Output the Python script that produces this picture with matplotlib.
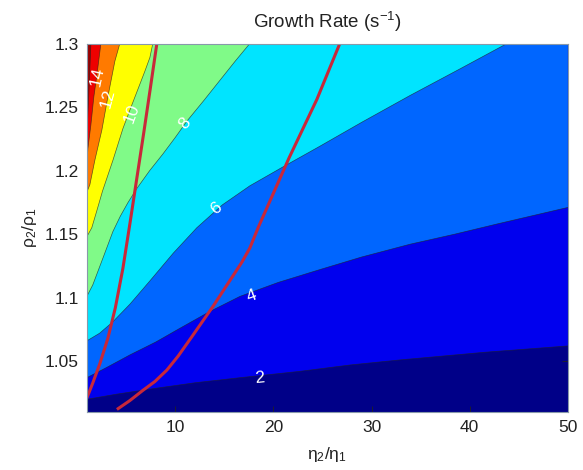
import matplotlib
matplotlib.use('Agg')
import matplotlib.pyplot as plt
from matplotlib.ticker import FixedLocator, FuncFormatter

plt.rcParams['font.family'] = ['Liberation Sans', 'DejaVu Sans']
plt.rcParams['mathtext.fontset'] = 'custom'
plt.rcParams['mathtext.rm'] = 'Liberation Sans'
plt.rcParams['mathtext.it'] = 'Liberation Sans:italic'

# contour lines (eta2/eta1, rho2/rho1)
c2_x = [1.0, 4.0, 7.4, 12.0, 16.6, 22.7, 27.8, 32.9, 41.5, 50.0]
c2_y = [1.020, 1.024, 1.028, 1.033, 1.037, 1.042, 1.047, 1.051, 1.057, 1.062]
c4_x = [1.0, 3.0, 5.4, 8.0, 10.5, 13.5, 16.6, 20.5, 24.7, 29.0, 33.9, 38.5, 42.8, 50.0]
c4_y = [1.037, 1.045, 1.055, 1.065, 1.076, 1.089, 1.101, 1.112, 1.122, 1.132,
        1.142, 1.150, 1.158, 1.171]
c6_x = [1.0, 2.3, 3.65, 5.4, 7.4, 9.8, 12.2, 14.8, 17.6, 21.0, 24.7, 29.0, 33.9, 39.0, 43.8]
c6_y = [1.066, 1.072, 1.081, 1.095, 1.113, 1.135, 1.155, 1.173, 1.188, 1.203,
        1.219, 1.238, 1.259, 1.280, 1.300]
c8_x = [1.0, 1.6, 2.63, 3.65, 4.4, 5.2, 6.1, 7.4, 8.74, 10.0, 11.2, 12.9, 14.55, 16.1, 17.6]
c8_y = [1.101, 1.110, 1.131, 1.152, 1.164, 1.175, 1.186, 1.200, 1.213, 1.226,
        1.239, 1.255, 1.271, 1.286, 1.300]
c10_x = [1.0, 1.5, 2.0, 2.6, 3.65, 4.67, 5.5, 6.2, 6.9, 7.42, 7.72]
c10_y = [1.148, 1.155, 1.168, 1.184, 1.208, 1.233, 1.250, 1.264, 1.278, 1.289, 1.300]
c12_x = [1.0, 1.31, 1.81, 2.53, 3.14, 3.85, 4.36]
c12_y = [1.183, 1.189, 1.208, 1.232, 1.258, 1.286, 1.300]
c14_x = [1.0, 1.10, 1.41, 1.71, 2.02, 2.43]
c14_y = [1.205, 1.217, 1.236, 1.258, 1.275, 1.300]
c16_x = [1.0, 1.2, 1.41]
c16_y = [1.228, 1.260, 1.300]

levels = [2, 4, 6, 8, 10, 12, 14, 16]
contours_x = [c2_x, c4_x, c6_x, c8_x, c10_x, c12_x, c14_x, c16_x]
contours_y = [c2_y, c4_y, c6_y, c8_y, c10_y, c12_y, c14_y, c16_y]

# inline label positions
label_text = ['2', '4', '6', '8', '10', '12', '14']
label_x = [18.6, 17.8, 14.2, 11.0, 5.6, 3.1, 2.05]
label_y = [1.037, 1.101, 1.170, 1.237, 1.245, 1.257, 1.274]
label_rot = [5, 20, 38, 50, 70, 75, 78]

# the two red curves
red1_x = [1.0, 1.61, 2.32, 3.14, 3.9, 4.67, 5.38, 6.09, 6.8, 7.45, 8.13]
red1_y = [1.021, 1.033, 1.048, 1.068, 1.092, 1.123, 1.158, 1.194, 1.230, 1.264, 1.300]
red2_x = [4.06, 5.38, 6.70, 7.93, 9.15, 10.3, 11.49, 13.84, 15.87, 16.8, 17.6, 18.5,
          21.6, 24.43, 26.77]
red2_y = [1.012, 1.019, 1.027, 1.034, 1.043, 1.054, 1.067, 1.093, 1.117, 1.128,
          1.139, 1.156, 1.210, 1.256, 1.300]

band_colors = ['#000088', '#0000EE', '#0066FF', '#00E4FF', '#80FA88',
               '#FFFF00', '#FF7A00', '#EE0000', '#990000']

xmin, xmax, ymin, ymax = 1, 50, 1.01, 1.3

fig = plt.figure(figsize=(5.83, 4.70), dpi=100)
ax = fig.add_axes([0.149, 0.1234, 0.825, 0.784])

# lowest band fills everything, higher bands painted on top
ax.fill([xmin, xmax, xmax, xmin], [ymin, ymin, ymax, ymax],
        color=band_colors[0], lw=0, zorder=1)
for i, (cx, cy) in enumerate(zip(contours_x, contours_y)):
    px = list(cx)
    py = list(cy)
    if cx[-1] >= xmax:
        px.append(xmax)
        py.append(ymax)
    px.append(xmin)
    py.append(ymax)
    ax.fill(px, py, color=band_colors[i + 1], lw=0, zorder=2 + i)
for cx, cy in zip(contours_x, contours_y):
    ax.plot(cx, cy, color='#222222', lw=0.5, alpha=0.7, zorder=20)

for t, lx, ly, r in zip(label_text, label_x, label_y, label_rot):
    ax.text(lx, ly, t, color='white', fontsize=12.5, rotation=r,
            ha='center', va='center', rotation_mode='anchor', zorder=25)

ax.plot(red1_x, red1_y, color='#C8283A', lw=2.2, zorder=30, solid_capstyle='butt')
ax.plot(red2_x, red2_y, color='#C8283A', lw=2.2, zorder=30, solid_capstyle='butt')

ax.set_xlim(xmin, xmax)
ax.set_ylim(ymin, ymax)
ax.xaxis.set_major_locator(FixedLocator([10, 20, 30, 40, 50]))
ax.yaxis.set_major_locator(FixedLocator([1.05, 1.1, 1.15, 1.2, 1.25, 1.3]))
ax.yaxis.set_major_formatter(FuncFormatter(lambda v, p: f'{v:g}'))
ax.tick_params(direction='in', length=4, width=0.6, top=True, right=True,
               labelsize=12.5, colors='#222222', pad=6)
for s in ax.spines.values():
    s.set_color('#8899AA')
    s.set_linewidth(0.8)
    s.set_zorder(40)

ax.set_title('Growth Rate (s$^{-1}$)', fontsize=13.5, pad=11, color='#222222')
ax.set_xlabel('η$_2$/η$_1$', fontsize=12.5, color='#222222', labelpad=7)
ax.set_ylabel('ρ$_2$/ρ$_1$', fontsize=12.5, color='#222222', labelpad=4)

fig.savefig('out.png', dpi=100)
